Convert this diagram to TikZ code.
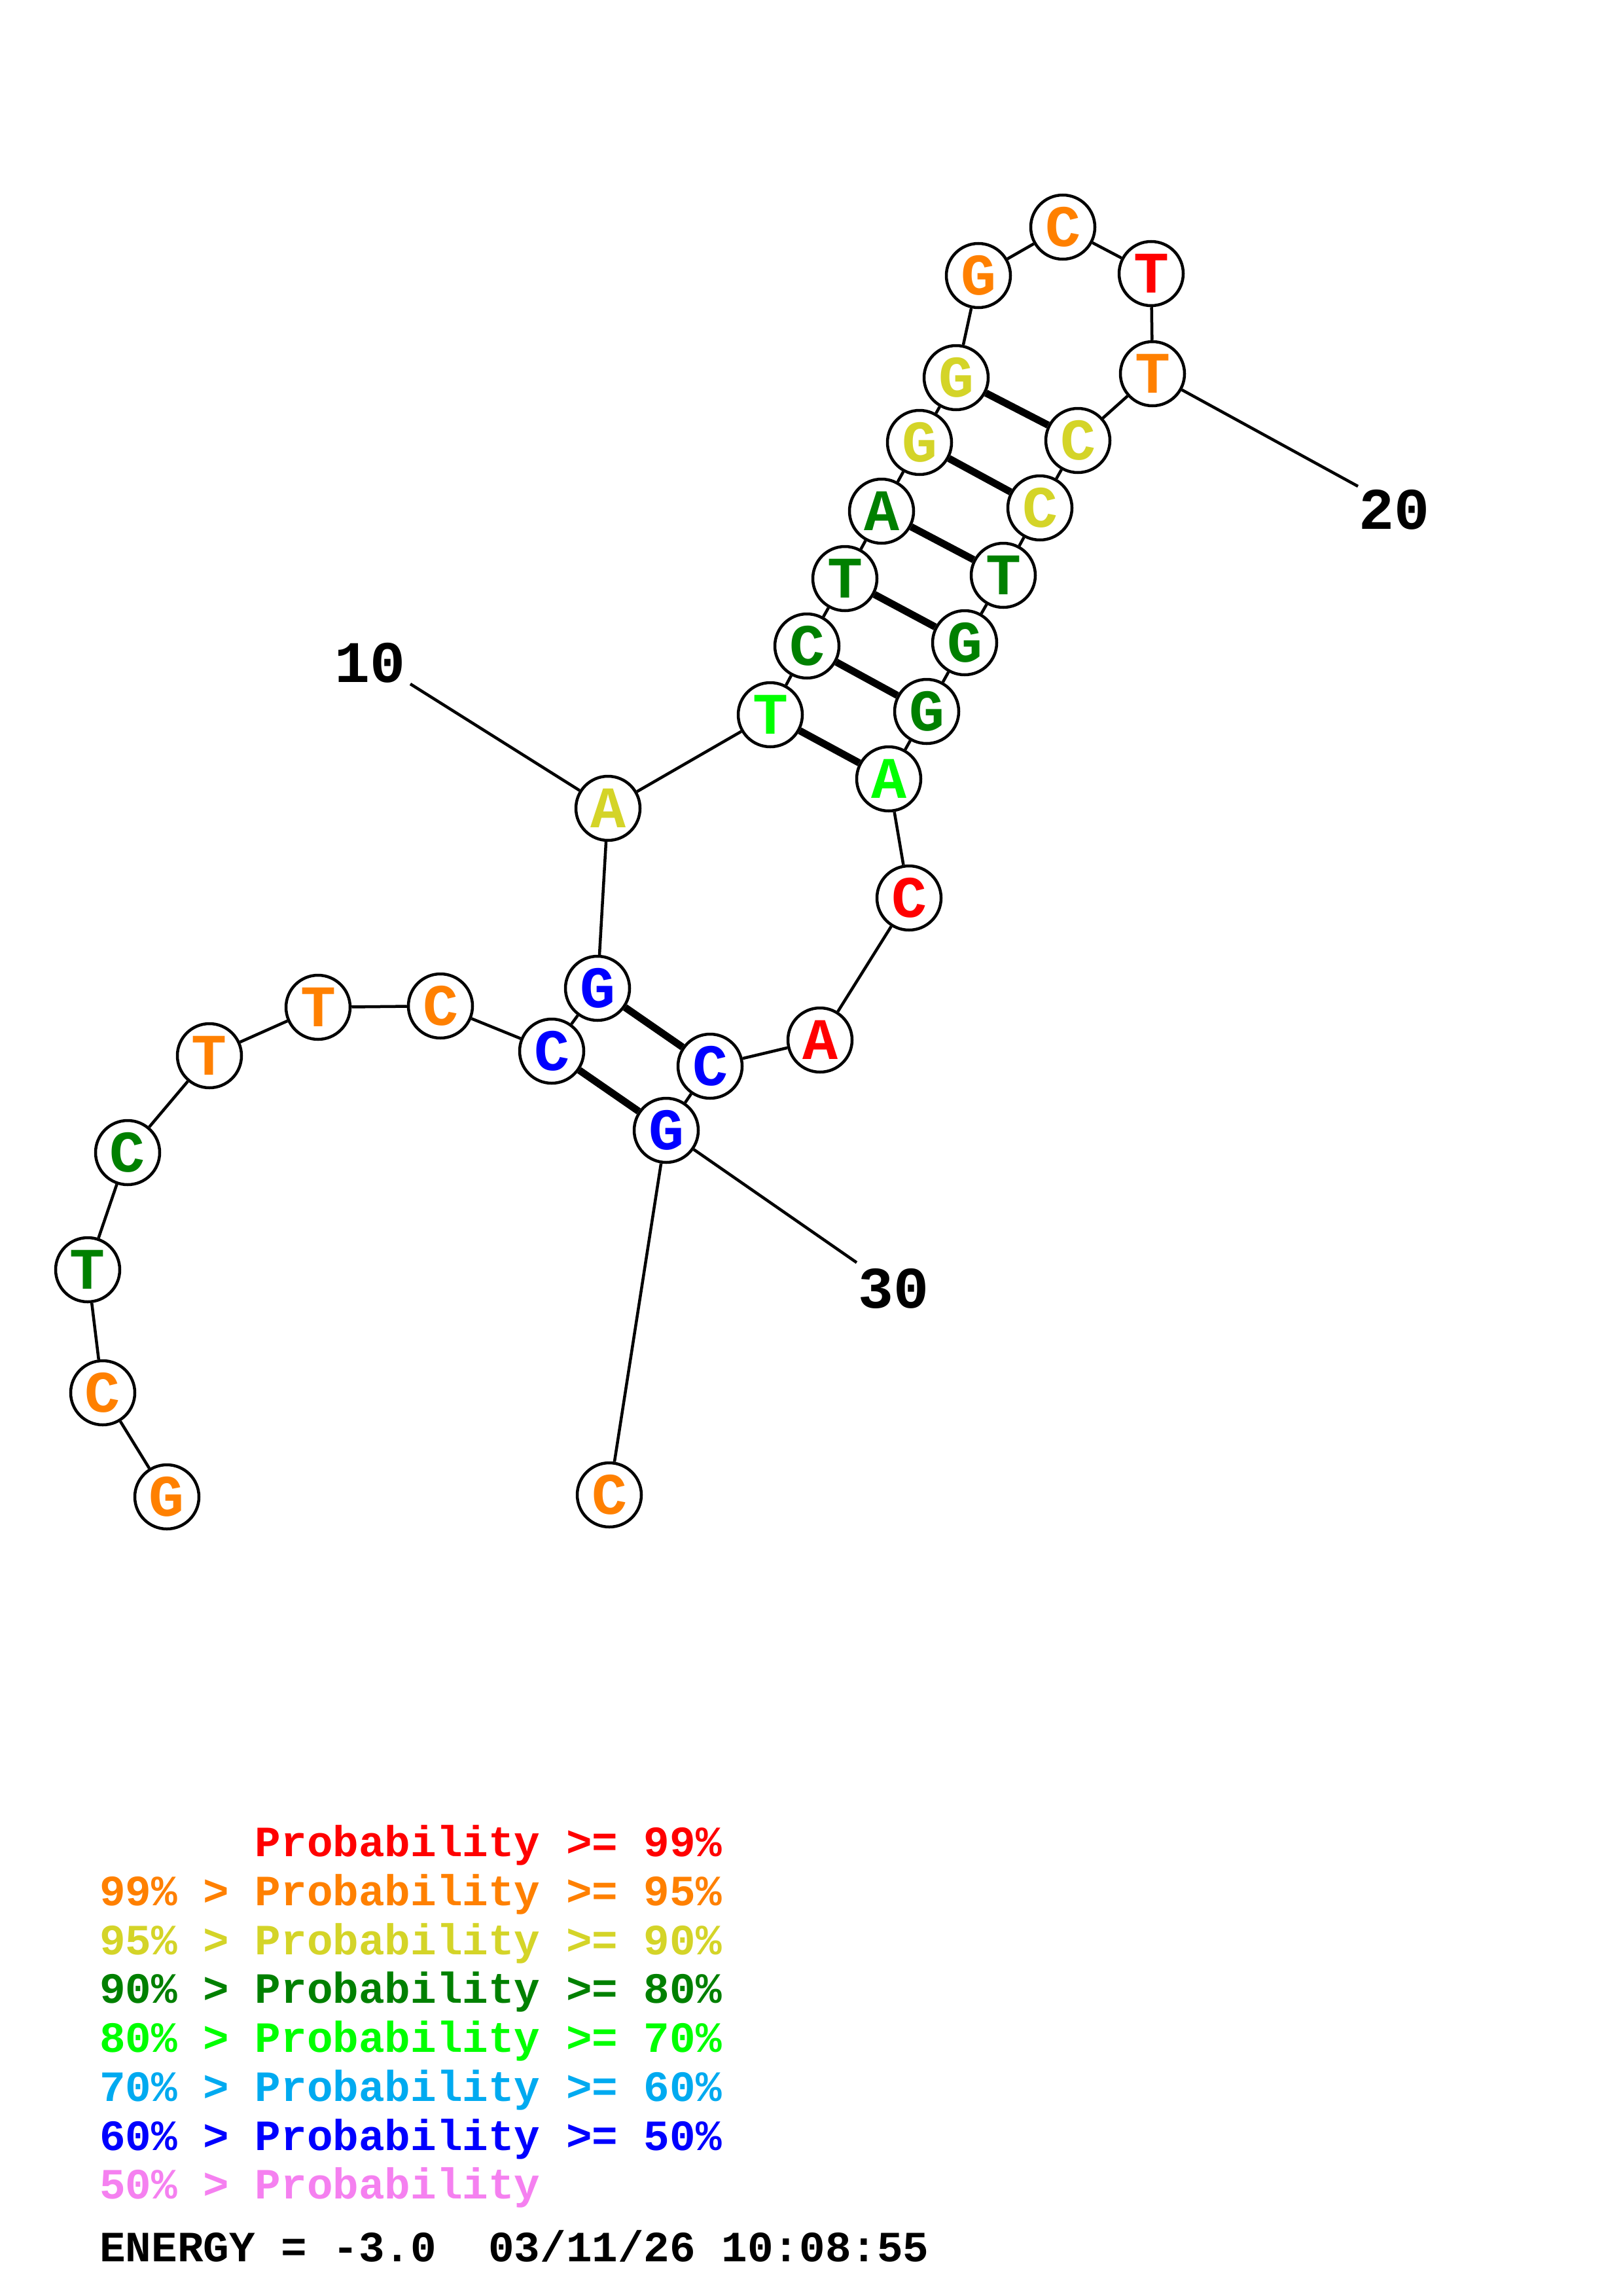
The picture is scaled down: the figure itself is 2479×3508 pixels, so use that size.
\documentclass[tikz,border=0pt]{standalone}
\usepackage{fontspec}
\setmainfont{Liberation Mono}
\definecolor{pr}{RGB}{255,0,0}
\definecolor{po}{RGB}{255,128,0}
\definecolor{py}{RGB}{212,212,40}
\definecolor{pg}{RGB}{0,128,0}
\definecolor{pl}{RGB}{0,255,0}
\definecolor{pc}{RGB}{0,170,240}
\definecolor{pb}{RGB}{0,0,255}
\definecolor{pp}{RGB}{245,128,240}
\tikzset{
  nt/.style={circle, draw=black, fill=white, line width=4.5pt, minimum size=98pt, inner sep=0pt, font=\fontsize{90}{90}\selectfont\bfseries},
  bb/.style={line width=4.5pt},
  bp/.style={line width=11pt},
  num/.style={inner sep=0pt, font=\fontsize{90}{90}\selectfont\bfseries},
  leg/.style={anchor=base west, inner sep=0pt, font=\fontsize{66}{66}\selectfont\bfseries},
}
\begin{document}
\begin{tikzpicture}[x=1pt,y=-1pt]
\useasboundingbox[fill=white] (0,0) rectangle (2479,3508);
% nucleotides
\node[nt, text=po] (n1) at (255,2287) {G};
\node[nt, text=po] (n2) at (157,2128) {C};
\node[nt, text=pg] (n3) at (134,1940) {T};
\node[nt, text=pg] (n4) at (195,1761) {C};
\node[nt, text=po] (n5) at (320,1613) {T};
\node[nt, text=po] (n6) at (486,1539) {T};
\node[nt, text=po] (n7) at (673,1537) {C};
\node[nt, text=pb] (n8) at (843,1606) {C};
\node[nt, text=pb] (n9) at (913,1510) {G};
\node[nt, text=py] (n10) at (929,1235) {A};
\node[nt, text=pl] (n11) at (1177,1092) {T};
\node[nt, text=pg] (n12) at (1233,987) {C};
\node[nt, text=pg] (n13) at (1291,884) {T};
\node[nt, text=pg] (n14) at (1347,781) {A};
\node[nt, text=py] (n15) at (1405,676) {G};
\node[nt, text=py] (n16) at (1461,577) {G};
\node[nt, text=po] (n17) at (1495,421) {G};
\node[nt, text=po] (n18) at (1624,347) {C};
\node[nt, text=pr] (n19) at (1759,418) {T};
\node[nt, text=po] (n20) at (1761,571) {T};
\node[nt, text=py] (n21) at (1647,673) {C};
\node[nt, text=py] (n22) at (1589,776) {C};
\node[nt, text=pg] (n23) at (1533,879) {T};
\node[nt, text=pg] (n24) at (1474,982) {G};
\node[nt, text=pg] (n25) at (1416,1087) {G};
\node[nt, text=pl] (n26) at (1358,1190) {A};
\node[nt, text=pr] (n27) at (1389,1372) {C};
\node[nt, text=pr] (n28) at (1253,1589) {A};
\node[nt, text=pb] (n29) at (1085,1629) {C};
\node[nt, text=pb] (n30) at (1018,1727) {G};
\node[nt, text=po] (n31) at (931,2284) {C};
% backbone
\foreach \a/\b in {1/2,2/3,3/4,4/5,5/6,6/7,7/8,8/9,9/10,10/11,11/12,12/13,13/14,14/15,15/16,16/17,17/18,18/19,19/20,20/21,21/22,22/23,23/24,24/25,25/26,26/27,27/28,28/29,29/30,30/31}
  \draw[bb] (n\a) -- (n\b);
% base pairs
\foreach \a/\b in {8/30,9/29,11/26,12/25,13/24,14/23,15/22,16/21}
  \draw[bp] (n\a) -- (n\b);
% numbering
\node[num] (t10) at (566,1013) {10};
\coordinate (l10) at (627,1045);
\draw[bb] (l10) -- (n10);
\node[num] (t20) at (2130,779) {20};
\coordinate (l20) at (2075,743);
\draw[bb] (n20) -- (l20);
\node[num] (t30) at (1365,1969) {30};
\coordinate (l30) at (1309,1929);
\draw[bb] (n30) -- (l30);
% legend
\node[leg, text=pr] (g1) at (152,2836) {\phantom{99\%~>~}Probability~>=~99\%};
\node[leg, text=po] (g2) at (152,2911) {99\%~>~Probability~>=~95\%};
\node[leg, text=py] (g3) at (152,2986) {95\%~>~Probability~>=~90\%};
\node[leg, text=pg] (g4) at (152,3060) {90\%~>~Probability~>=~80\%};
\node[leg, text=pl] (g5) at (152,3135) {80\%~>~Probability~>=~70\%};
\node[leg, text=pc] (g6) at (152,3210) {70\%~>~Probability~>=~60\%};
\node[leg, text=pb] (g7) at (152,3285) {60\%~>~Probability~>=~50\%};
\node[leg, text=pp] (g8) at (152,3359) {50\%~>~Probability};
\node[leg, text=black] (g9) at (152,3455) {ENERGY~=~-3.0~~03/11/26~10:08:55};
\end{tikzpicture}
\end{document}
